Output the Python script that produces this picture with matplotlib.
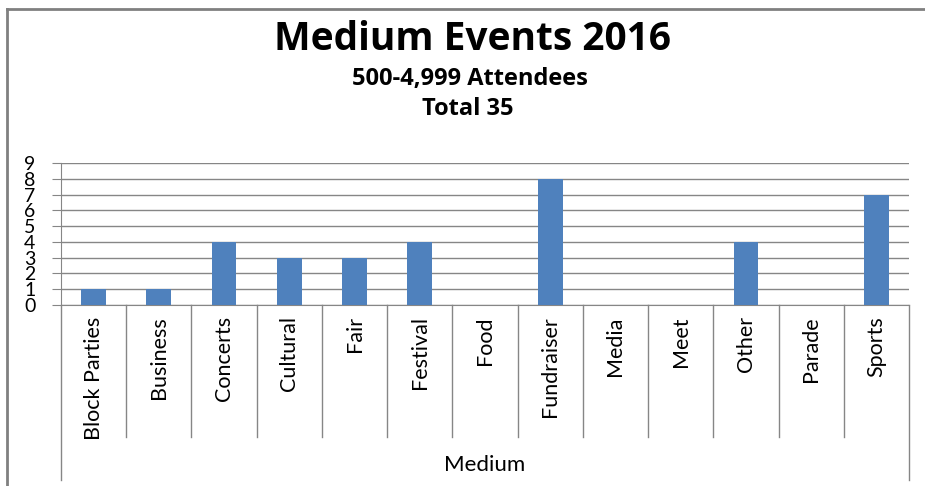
import matplotlib.pyplot as plt
from matplotlib.lines import Line2D

# chart data
categories = ['Block Parties', 'Business', 'Concerts', 'Cultural', 'Fair', 'Festival',
              'Food', 'Fundraiser', 'Media', 'Meet', 'Other', 'Parade', 'Sports']
counts = [1, 1, 4, 3, 3, 4, 0, 8, 0, 0, 4, 0, 7]
y_ticks = list(range(0, 10))

title = 'Medium Events 2016'
subtitle = '500-4,999 Attendees'
total_line = 'Total 35'
axis_label = 'Medium'

plt.rcParams['font.family'] = ['Lato', 'DejaVu Sans']

fig = plt.figure(figsize=(9.25, 4.86), dpi=100)
ax = fig.add_axes([61 / 925, 1 - 305 / 486, (909 - 61) / 925, (305 - 163) / 486])

x = range(len(categories))
ax.bar(x, counts, width=0.38, color='#4F81BD', zorder=3)

ax.set_xlim(-0.5, len(categories) - 0.5)
ax.set_ylim(0, 9)
ax.set_yticks(y_ticks)
ax.set_yticklabels([str(v) for v in y_ticks], fontsize=14)
ax.tick_params(axis='y', length=6.5, color='#868686', pad=12)
ax.set_xticks([])
ax.grid(axis='y', color='#868686', linewidth=1, zorder=0)

for side in ['top', 'right']:
    ax.spines[side].set_visible(False)
ax.spines['left'].set_color('#868686')
ax.spines['bottom'].set_color('#868686')

# category labels, rotated, hanging below the axis
for i, name in enumerate(categories):
    ax.text(i, -0.08, name, rotation=90, ha='center', va='top', fontsize=15.5,
            transform=ax.get_xaxis_transform())

# separators between categories, plus the outer frame of the axis area
trans = ax.get_xaxis_transform()
for i in range(1, len(categories)):
    ax.plot([i - 0.5, i - 0.5], [0, -0.93], color='#868686', lw=1,
            transform=trans, clip_on=False)
for edge in [-0.5, len(categories) - 0.5]:
    ax.plot([edge, edge], [0, -1.232], color='#868686', lw=1,
            transform=trans, clip_on=False)

ax.text(0.5, -1.13, axis_label, ha='center', va='center', fontsize=16,
        transform=ax.transAxes)

# titles
fig.text(472 / 925, 1 - 39 / 486, title, ha='center', va='center',
         fontsize=28, fontweight='bold', family='Open Sans')
fig.text(470 / 925, 1 - 79 / 486, subtitle, ha='center', va='center',
         fontsize=17, fontweight='bold', family='Open Sans')
fig.text(468 / 925, 1 - 109 / 486, total_line, ha='center', va='center',
         fontsize=17, fontweight='bold', family='Open Sans')

# chart border (top and left edges visible)
fig.add_artist(Line2D([7 / 925, 1], [1 - 9 / 486, 1 - 9 / 486], color='#808080', lw=2,
                      transform=fig.transFigure))
fig.add_artist(Line2D([7 / 925, 7 / 925], [1 - 9 / 486, 0], color='#808080', lw=2,
                      transform=fig.transFigure))

fig.savefig('out.png', dpi=100)
